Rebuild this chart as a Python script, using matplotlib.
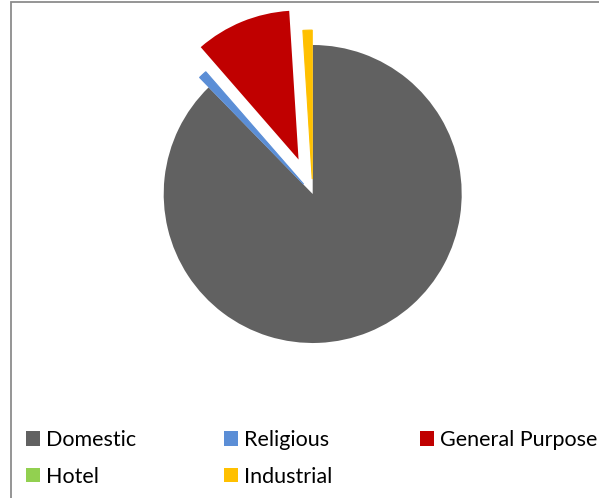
import matplotlib
matplotlib.use("Agg")
import matplotlib.pyplot as plt
from matplotlib.patches import Rectangle

categories = ["Domestic", "Religious", "General Purpose", "Hotel", "Industrial"]
values = [87.7, 0.9, 10.4, 0.0, 1.0]
colors = ["#616161", "#5B8ED6", "#C00000", "#92D050", "#FFC000"]
explode = [0.0, 0.09, 0.25, 0.0, 0.1]

plt.rcParams['font.family'] = ['Lato', 'DejaVu Sans']

W, H = 599, 498
fig = plt.figure(figsize=(W / 100, H / 100), dpi=100)

# outer border of chart area
fig.patches.append(Rectangle((10.5 / W, -0.05), 1.2, (H - 2) / H + 0.05,
                             transform=fig.transFigure, fill=False,
                             edgecolor="#8c8c8c", linewidth=1.3))

cx, cy, r = 312.7, 194.0, 149.0
ax = fig.add_axes([(cx - r) / W, (H - cy - r) / H, 2 * r / W, 2 * r / H])
wedges, _ = ax.pie(values, colors=colors, explode=explode, startangle=90,
                   counterclock=False, radius=1.0,
                   wedgeprops=dict(linewidth=0))
for w in wedges:
    w.set_clip_on(False)
# thin slices drawn with an outline of their own colour so they stay visible
for i in (1, 4):
    wedges[i].set_edgecolor(colors[i])
    wedges[i].set_linewidth(0.8)
ax.set_xlim(-1, 1)
ax.set_ylim(-1, 1)
ax.set_aspect('equal')
ax.axis('off')

order = [0, 3, 1, 4, 2]
fs = 15.5
leg = fig.legend([wedges[i] for i in order], [categories[i] for i in order],
                 ncol=3, loc='upper left', bbox_to_anchor=(26.0 / W, 1 - 430 / H),
                 frameon=False, fontsize=fs, handlelength=0.65, handleheight=0.65,
                 handletextpad=0.26, columnspacing=4.1, labelspacing=0.78,
                 borderpad=0, borderaxespad=0)
for h in leg.legend_handles:
    h.set_edgecolor('none')
    h.set_linewidth(0)

fig.savefig("out.png", dpi=100)
